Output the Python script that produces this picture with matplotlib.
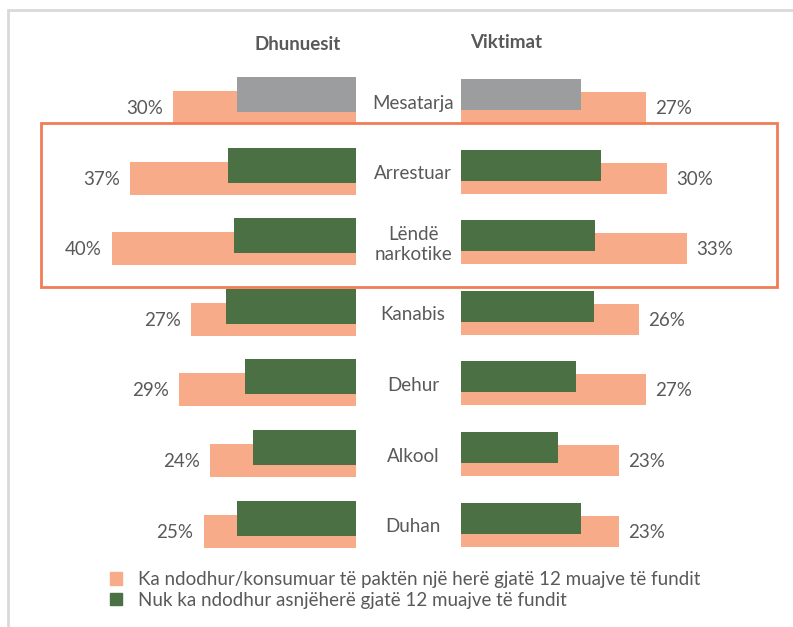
import matplotlib.pyplot as plt
from matplotlib.patches import Rectangle, Patch
from matplotlib.transforms import blended_transform_factory

plt.rcParams['font.family'] = ['Lato', 'DejaVu Sans']

categories = ['Mesatarja', 'Arrestuar', 'Lëndë\nnarkotike', 'Kanabis', 'Dehur', 'Alkool', 'Duhan']
dhun_ever = [30, 37, 40, 27, 29, 24, 25]
dhun_never = [19.5, 21, 20, 21.3, 18.2, 16.9, 19.5]
vikt_ever = [27, 30, 33, 26, 27, 23, 23]
vikt_never = [17.5, 20.4, 19.5, 19.4, 16.8, 14.1, 17.5]
legend_labels = ['Ka ndodhur/konsumuar të paktën një herë gjatë 12 muajve të fundit',
                 'Nuk ka ndodhur asnjëherë gjatë 12 muajve të fundit']

W, H = 793, 627
ORANGE = '#F8AB88'
GREEN = '#4B7043'
GRAY = '#9B9D9E'
TXT = '#595959'
FS = 13.5


def fx(x):
    return x / W


def fy(y):
    return 1 - y / H


fig = plt.figure(figsize=(W / 100, H / 100), dpi=100)

# outer frame
fig.patches.append(Rectangle((fx(8), fy(640)), fx(800), fy(10) - fy(640), transform=fig.transFigure,
                             fill=False, edgecolor='#D9D9D9', lw=2))

top, bot = 60, 570
row0, step = 107.5, 70.6
ylim = ((bot - row0) / step, (top - row0) / step)

ax_l = fig.add_axes([fx(40), fy(bot), fx(356 - 40), fy(top) - fy(bot)])
ax_r = fig.add_axes([fx(461), fy(bot), fx(780 - 461), fy(top) - fy(bot)])
ax_l.set_xlim((356 - 40) / 6.1, 0)
ax_r.set_xlim(0, (780 - 461) / 6.86)

pos = list(range(len(categories)))
over_colors = [GRAY] + [GREEN] * (len(categories) - 1)
shift = 13 / step

ax_l.barh(pos, dhun_ever, height=33 / step, color=ORANGE)
ax_l.barh([p - shift for p in pos], dhun_never, height=35 / step, color=over_colors)
ax_r.barh(pos, vikt_ever, height=31 / step, color=ORANGE)
ax_r.barh([p - shift for p in pos], vikt_never, height=31 / step, color=over_colors)

for ax in (ax_l, ax_r):
    ax.set_ylim(*ylim)
    ax.axis('off')

for p, v in zip(pos, dhun_ever):
    ax_l.annotate(f'{v}%', (v, p), xytext=(-10, -1), textcoords='offset pixels',
                  ha='right', va='center', fontsize=FS, color=TXT)
for p, v in zip(pos, vikt_ever):
    ax_r.annotate(f'{v}%', (v, p), xytext=(9, -1), textcoords='offset pixels',
                  ha='left', va='center', fontsize=FS, color=TXT)

tr = blended_transform_factory(fig.transFigure, ax_l.transData)
for p, c in zip(pos, categories):
    fig.text(fx(413), p - shift / 2 + 0.03, c, transform=tr, ha='center', va='center',
             fontsize=FS, color=TXT, linespacing=1.2)

fig.text(fx(298), fy(44), 'Dhunuesit', ha='center', va='center', fontsize=FS,
         fontweight='bold', color=TXT)
fig.text(fx(506), fy(42), 'Viktimat', ha='center', va='center', fontsize=FS,
         fontweight='bold', color=TXT)

# highlight box
fig.patches.append(Rectangle((fx(41), fy(287)), fx(777 - 41), fy(123) - fy(287), transform=fig.transFigure,
                             fill=False, edgecolor='#F07D55', lw=2))

handles = [Patch(color=ORANGE), Patch(color=GREEN)]
fig.legend(handles, legend_labels, loc='upper left', bbox_to_anchor=(fx(93), fy(554)),
           frameon=False, fontsize=FS, handlelength=0.65, handleheight=0.65,
           handletextpad=0.85, labelspacing=0.2, labelcolor=TXT)

fig.savefig('out.png', dpi=100)
